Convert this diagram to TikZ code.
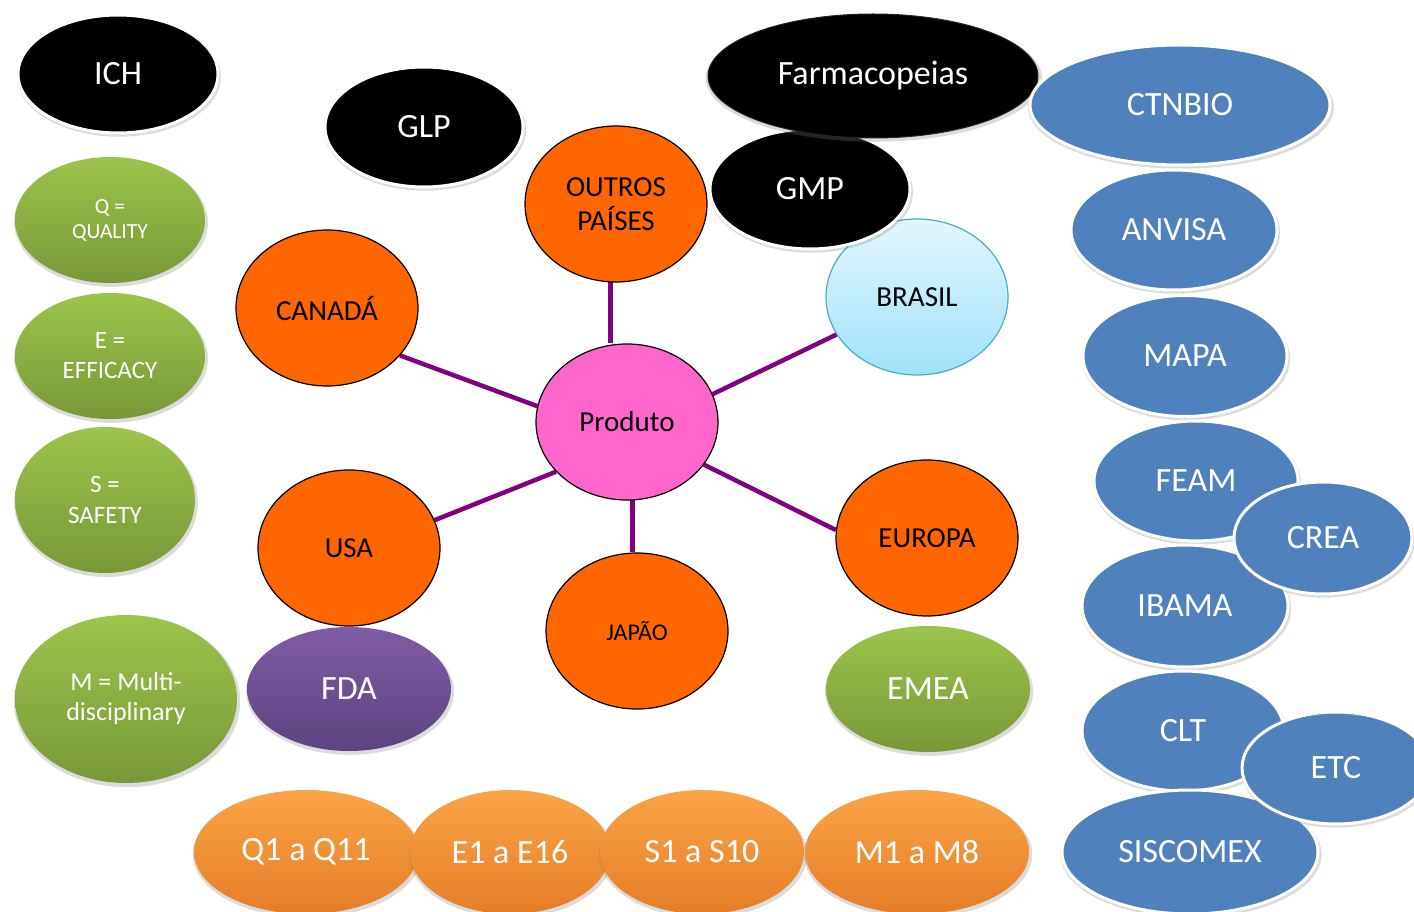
\documentclass[tikz,border=0pt]{standalone}
\usepackage{fontspec}
\setmainfont{Carlito}
\usetikzlibrary{shapes.geometric,shadows,backgrounds}
\definecolor{orangeC}{HTML}{FF6600}
\definecolor{pinkC}{HTML}{FF66CC}
\definecolor{blueC}{HTML}{4F81BD}
\definecolor{lineC}{HTML}{800080}
\definecolor{greenT}{HTML}{9DC44B}
\definecolor{greenB}{HTML}{789838}
\definecolor{purpT}{HTML}{7E5CA6}
\definecolor{purpB}{HTML}{5C4380}
\definecolor{bTop}{HTML}{E2F6FD}
\definecolor{bBot}{HTML}{9FE3F8}
\definecolor{bEdge}{HTML}{4BACC6}
\definecolor{oTop}{HTML}{FBA446}
\definecolor{oBot}{HTML}{E47E28}
\tikzset{
  sz/.style 2 args={minimum width=#1pt, minimum height=#2pt},
  base/.style={ellipse, inner sep=0pt, align=center},
  shad/.style={drop shadow={shadow xshift=1pt, shadow yshift=-2.5pt, shadow scale=1.02, opacity=0.28}},
  bigf/.style={font=\fontsize{34}{40}\selectfont},
  midf/.style={font=\fontsize{29}{34}\selectfont},
  blackE/.style={base, shad, fill=black, draw=white, line width=3pt, text=white, bigf},
  farmE/.style={base, shad, fill=black, draw=black!85, line width=1pt, text=white, bigf},
  blueE/.style={base, shad, fill=blueC, draw=white, line width=3pt, text=white, bigf},
  greenE/.style={base, shad, top color=greenT, bottom color=greenB, text=white},
  purpE/.style={base, shad, top color=purpT, bottom color=purpB, text=white, bigf},
  countryE/.style={base, fill=orangeC, draw=black, line width=1.2pt, text=black, midf},
  prodE/.style={base, fill=pinkC, draw=black, line width=1.2pt, text=black, midf},
  brasilE/.style={base, top color=bTop, bottom color=bBot, draw=bEdge, line width=1.2pt, text=black, midf},
  botE/.style={base, shad, top color=oTop, bottom color=oBot, text=white, bigf},
  link/.style={draw=lineC, line width=4.5pt},
}
\begin{document}
\begin{tikzpicture}[x=1pt,y=-1pt]
\clip (0,0) rectangle (1414,912);

% left column
\node[blackE, sz={200}{118}] (ich) at (118,74) {ICH};
\node[greenE, sz={190}{126}, font=\fontsize{21.5}{25}\selectfont] (q) at (110,220) {Q =\\QUALITY};
\node[greenE, sz={190}{126}, font=\fontsize{25}{30}\selectfont] (e) at (110,356) {E =\\EFFICACY};
\node[greenE, sz={180}{146}, font=\fontsize{25}{31}\selectfont] (s) at (105,500) {S =\\SAFETY};
\node[greenE, sz={222}{168}, font=\fontsize{26}{30}\selectfont] (m) at (126,699) {M = Multi-\\disciplinary};

\node[blackE, sz={198}{120}] (glp) at (424,127) {GLP};

% countries
\node[countryE, sz={182}{156}] (can) at (327,308) {CANADÁ};
\node[countryE, sz={182}{156}] (out) at (616,204) {OUTROS\\PAÍSES};
\node[prodE, sz={182}{156}] (prod) at (627,422) {Produto};
\node[brasilE, sz={182}{156}] (bra) at (917,297) {BRASIL};

\node[blackE, sz={200}{120}] (gmp) at (810,189) {GMP};
\node[farmE, sz={330}{124}] (farm) at (873,76) {Farmacopeias};

% right column
\node[blueE, sz={300}{120}] (ctn) at (1180,105) {CTNBIO};
\node[blueE, sz={206}{120}] (anv) at (1174,230) {ANVISA};
\node[blueE, sz={204}{121}] (mapa) at (1185,356) {MAPA};
\node[blueE, sz={204}{120}] (feam) at (1196,481) {FEAM};
\node[blueE, sz={206}{122}] (ibama) at (1185,606) {IBAMA};
\node[blueE, sz={178}{112}] (crea) at (1323,538) {CREA};
\node[blueE, sz={202}{120}] (clt) at (1183,731) {CLT};
\node[blueE, sz={256}{124}] (sisc) at (1190,852) {SISCOMEX};
\node[blueE, sz={188}{112}] (etc) at (1336,768) {ETC};

% lower countries
\node[purpE, sz={204}{124}] (fda) at (349,689) {FDA};
\node[countryE, sz={182}{156}] (usa) at (349,548) {USA};
\node[countryE, sz={182}{156}, font=\fontsize{24}{28}\selectfont] (jap) at (637,631) {JAPÃO};
\node[countryE, sz={182}{156}] (eur) at (927,538) {EUROPA};
\node[greenE, sz={204}{126}, bigf] (emea) at (928,689) {EMEA};

% bottom row
\node[botE, sz={224}{124}] (q1) at (306,852) {Q1 a Q11};
\node[botE, sz={200}{124}] (e1) at (510,852) {E1 a E16};
\node[botE, sz={204}{124}] (s1) at (702,852) {S1 a S10};
\node[botE, sz={224}{124}] (m1) at (917,852) {M1 a M8};

\begin{pgfonlayer}{background}
\draw[link] (can.-33) -- (prod.170);
\draw[link] (out.-94) -- (out.-94 |- prod.north);
\draw[link] (prod.18) -- (bra.-155);
\draw[link] (usa.18) -- (prod.-145);
\draw[link] (prod.-86) -- (prod.-86 |- jap.north);
\draw[link] (prod.-29) -- (eur.175);
\end{pgfonlayer}
\end{tikzpicture}
\end{document}
